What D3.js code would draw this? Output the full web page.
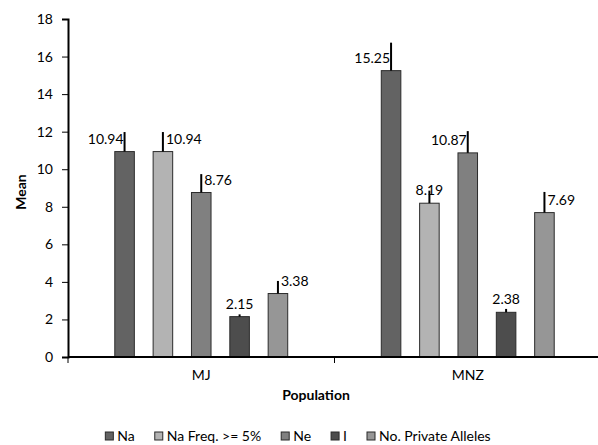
<!DOCTYPE html>
<html>
<head>
<meta charset="utf-8">
<script src="https://cdn.jsdelivr.net/npm/d3@7"></script>
<style>
  body { margin: 0; background: #fff; }
  text { font-family: Lato, "Open Sans", sans-serif; fill: #000; }
</style>
</head>
<body>
<div id="chart"></div>
<script>
const populations = ["MJ", "MNZ"];
const seriesNames = ["Na", "Na Freq. >= 5%", "Ne", "I", "No. Private Alleles"];
const meanMJ = [10.94, 10.94, 8.76, 2.15, 3.38];
const meanMNZ = [15.25, 8.19, 10.87, 2.38, 7.69];
const errMJ = [1.04, 1.04, 0.98, 0.12, 0.67];
const errMNZ = [1.49, 0.67, 1.16, 0.18, 1.10];
const yTicks = [0, 2, 4, 6, 8, 10, 12, 14, 16, 18];

const colors = ["#636363", "#b3b3b3", "#808080", "#4d4d4d", "#969696"];
// where each value label sits relative to its error bar
const labelSide = {
    MJ: ["end", "start", "start", "middle", "start"],
    MNZ: ["end", "middle", "end", "middle", "start"]
};

const width = 598, height = 445;
const margin = { top: 19, right: -3, bottom: 88, left: 68 };

const svg = d3.select("#chart").append("svg")
    .attr("width", width)
    .attr("height", height);

const x0 = d3.scaleBand()
    .domain(populations)
    .range([margin.left, width - margin.right]);

const x1 = d3.scaleBand()
    .domain(d3.range(seriesNames.length))
    .range([0, x0.bandwidth()])
    .paddingInner(0.49)
    .paddingOuter(1.22);

const y = d3.scaleLinear()
    .domain([0, 18])
    .range([height - margin.bottom, margin.top]);

// y axis
const yAxis = svg.append("g")
    .attr("transform", "translate(" + margin.left + ",0)")
    .call(d3.axisLeft(y).tickValues(yTicks).tickSize(6).tickPadding(9));
yAxis.select(".domain").attr("stroke", "#000").attr("stroke-width", 2);
yAxis.selectAll(".tick line").attr("stroke", "#000").attr("stroke-width", 1);
yAxis.selectAll(".tick text").style("font-size", "14px").style("font-family", "Lato, sans-serif");

const data = [];
populations.forEach(function (p) {
    const vals = p === "MJ" ? meanMJ : meanMNZ;
    const errs = p === "MJ" ? errMJ : errMNZ;
    vals.forEach(function (v, i) {
        data.push({ pop: p, idx: i, value: v, err: errs[i], side: labelSide[p][i] });
    });
});

const bars = svg.append("g").selectAll("g")
    .data(data)
    .enter()
    .append("g")
    .attr("transform", function (d) { return "translate(" + (x0(d.pop) + x1(d.idx)) + ",0)"; });

bars.append("rect")
    .attr("x", 0)
    .attr("y", function (d) { return y(d.value); })
    .attr("width", x1.bandwidth())
    .attr("height", function (d) { return y(0) - y(d.value); })
    .attr("fill", function (d) { return colors[d.idx]; })
    .attr("stroke", "#2b2b2b")
    .attr("stroke-width", 1);

bars.append("line")
    .attr("x1", x1.bandwidth() / 2)
    .attr("x2", x1.bandwidth() / 2)
    .attr("y1", function (d) { return y(d.value); })
    .attr("y2", function (d) { return y(d.value + d.err); })
    .attr("stroke", "#000")
    .attr("stroke-width", 2);

bars.append("text")
    .attr("x", function (d) {
        const c = x1.bandwidth() / 2;
        if (d.side === "end") return c - 1;
        if (d.side === "start") return c + 3;
        return c;
    })
    .attr("y", function (d) { return y(d.value) - 8; })
    .attr("text-anchor", function (d) { return d.side; })
    .style("font-size", "14px")
    .text(function (d) { return d.value.toFixed(2); });

// x axis
const xAxis = svg.append("g")
    .attr("transform", "translate(0," + y(0) + ")");
xAxis.append("line")
    .attr("x1", margin.left)
    .attr("x2", width)
    .attr("stroke", "#000")
    .attr("stroke-width", 2);
xAxis.selectAll(".tk")
    .data([margin.left, x0("MNZ"), width - margin.right])
    .enter()
    .append("line")
    .attr("x1", function (d) { return d; })
    .attr("x2", function (d) { return d; })
    .attr("y1", 0)
    .attr("y2", 6)
    .attr("stroke", "#000");
xAxis.selectAll(".cat")
    .data(populations)
    .enter()
    .append("text")
    .attr("x", function (d) { return x0(d) + x0.bandwidth() / 2; })
    .attr("y", 23)
    .attr("text-anchor", "middle")
    .style("font-size", "14px")
    .text(function (d) { return d; });

// axis titles
svg.append("text")
    .attr("x", 316)
    .attr("y", 400)
    .attr("text-anchor", "middle")
    .style("font-size", "14px")
    .style("font-weight", "bold")
    .text("Population");

svg.append("text")
    .attr("transform", "translate(26,192) rotate(-90)")
    .attr("text-anchor", "middle")
    .style("font-size", "14px")
    .style("font-weight", "bold")
    .text("Mean");

// legend
const legend = svg.append("g");
let lx = 0;
seriesNames.forEach(function (name, i) {
    const item = legend.append("g").attr("transform", "translate(" + lx + ",0)");
    item.append("rect")
        .attr("x", 0).attr("y", -9)
        .attr("width", 8).attr("height", 8)
        .attr("fill", colors[i])
        .attr("stroke", "#2b2b2b")
        .attr("stroke-width", 1);
    const t = item.append("text")
        .attr("x", 12)
        .attr("y", 0)
        .style("font-size", "14px")
        .text(name);
    lx += 12 + t.node().getComputedTextLength() + 20;
});
const legendWidth = lx - 20;
legend.attr("transform", "translate(" + (298 - legendWidth / 2) + ",441)");
</script>
</body>
</html>
